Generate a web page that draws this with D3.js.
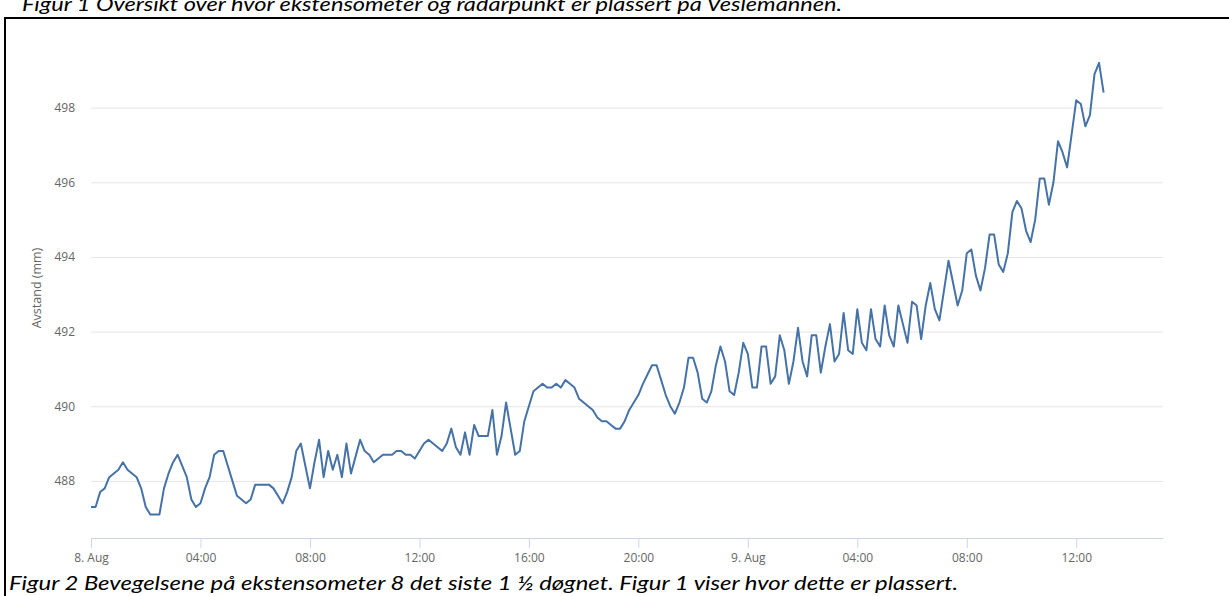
<!doctype html>
<html lang="no">
<head>
  <meta charset="utf-8">
  <title>Ekstensometer 8</title>
  <script src="https://d3js.org/d3.v7.min.js"></script>
  <style>
    body { margin: 0; background: #fff; }
    svg { display: block; }
  </style>
</head>
<body>
  <div id='my_chart'></div>
<script>
  // readings every 10 minutes from 8. Aug 00:00
  var start_time = Date.UTC(2018, 7, 8, 0, 0);
  var step_minutes = 10;
  var avstand = [
    487.3, 487.3, 487.7, 487.8, 488.1, 488.2, 488.3, 488.5, 488.3, 488.2,
    488.1, 487.8, 487.3, 487.1, 487.1, 487.1, 487.8, 488.2, 488.5, 488.7,
    488.4, 488.1, 487.5, 487.3, 487.4, 487.8, 488.1, 488.7, 488.8, 488.8,
    488.4, 488.0, 487.6, 487.5, 487.4, 487.5, 487.9, 487.9, 487.9, 487.9,
    487.8, 487.6, 487.4, 487.7, 488.1, 488.8, 489.0, 488.4, 487.8, 488.5,
    489.1, 488.1, 488.8, 488.3, 488.7, 488.1, 489.0,
    488.2, 488.65, 489.1, 488.8, 488.7, 488.5, 488.6, 488.7, 488.7, 488.7,
    488.8, 488.8, 488.7, 488.7, 488.6, 488.8, 489.0, 489.1, 489.0, 488.9,
    488.8, 489.0, 489.4, 488.9, 488.7, 489.3, 488.7, 489.5, 489.2, 489.2,
    489.2, 489.9, 488.7, 489.2, 490.1, 489.4, 488.7, 488.8, 489.6, 490.0,
    490.4, 490.5, 490.6, 490.5, 490.5, 490.6, 490.5, 490.7, 490.6, 490.5,
    490.2, 490.1, 490.0, 489.9, 489.7, 489.6,
    489.6, 489.5, 489.4, 489.4, 489.6, 489.9, 490.1, 490.3, 490.6, 490.85,
    491.1, 491.1, 490.7, 490.3, 490.0, 489.8, 490.1, 490.5, 491.3, 491.3,
    490.9, 490.2, 490.1, 490.4, 491.1, 491.6, 491.2, 490.4, 490.3, 490.9,
    491.7, 491.4, 490.5, 490.5, 491.6, 491.6, 490.6, 490.8, 491.9, 491.5,
    490.6, 491.2, 492.1, 491.2, 490.8, 491.9, 491.9, 490.9, 491.6, 492.2,
    491.2, 491.4, 492.5, 491.5, 491.4,
    492.6, 491.7, 491.5, 492.6, 491.8, 491.6, 492.7, 491.9, 491.6, 492.7,
    492.2, 491.7, 492.8, 492.7, 491.8, 492.7, 493.3, 492.6, 492.3, 493.1,
    493.9, 493.3, 492.7, 493.1, 494.1, 494.2, 493.5, 493.1, 493.7, 494.6,
    494.6, 493.8, 493.6, 494.1, 495.2, 495.5, 495.3, 494.7, 494.4, 495.0,
    496.1, 496.1, 495.4, 496.0, 497.1, 496.8, 496.4, 497.3, 498.2, 498.1,
    497.5, 497.8, 498.9, 499.2, 498.4
  ];
  var y_ticks = [488, 490, 492, 494, 496, 498];
  var x_ticks = d3.range(0, 10).map((i) => new Date(start_time + i * 4 * 3600e3));
  var caption_top = 'Figur 1 Oversikt over hvor ekstensometer og radarpunkt er plassert på Veslemannen.';
  var caption_bottom = 'Figur 2 Bevegelsene på ekstensometer 8 det siste 1 ½ døgnet. Figur 1 viser hvor dette er plassert.';
  var y_title = 'Avstand (mm)';

  var width = 1229;
  var height = 596;
  var plot = {left: 91, right: 1163, top: 33, bottom: 538};
  var font = '"Open Sans", sans-serif';

  var my_data = avstand.map((v, i) => ({t: new Date(start_time + i * step_minutes * 60e3), v: v}));

  var x = d3.scaleUtc()
    .domain([new Date(start_time), new Date(start_time + 39.17 * 3600e3)])
    .range([plot.left, plot.right]);
  var y = d3.scaleLinear()
    .domain([486.47, 500])
    .range([plot.bottom, plot.top]);

  var chart = d3.select('#my_chart').append('svg')
    .attr('width', width)
    .attr('height', height)
    .style('background', '#fff');

  // document frame and captions
  chart.append('line')
    .attr('x1', 5).attr('x2', width).attr('y1', 18).attr('y2', 18)
    .attr('stroke', '#000').attr('stroke-width', 2);
  chart.append('line')
    .attr('x1', 5).attr('x2', 5).attr('y1', 17).attr('y2', height)
    .attr('stroke', '#000').attr('stroke-width', 2);
  chart.append('text')
    .attr('x', 22).attr('y', 11)
    .attr('textLength', 820).attr('lengthAdjust', 'spacingAndGlyphs')
    .style('font', 'italic 19px Lato, sans-serif')
    .text(caption_top);
  chart.append('text')
    .attr('x', 9).attr('y', 590)
    .attr('textLength', 949).attr('lengthAdjust', 'spacingAndGlyphs')
    .style('font', 'italic 19px Lato, sans-serif')
    .text(caption_bottom);

  // y grid + labels
  var y_axis = chart.append('g')
    .attr('transform', 'translate(' + plot.left + ',0)')
    .call(d3.axisLeft(y).tickValues(y_ticks).tickSize(-(plot.right - plot.left)).tickPadding(16));
  y_axis.select('.domain').remove();
  y_axis.selectAll('line').attr('stroke', '#e6e6e6');
  y_axis.selectAll('text')
    .attr('fill', '#666')
    .style('font', '12px ' + font);

  chart.append('text')
    .attr('transform', 'translate(41,' + 288 + ') rotate(-90)')
    .attr('text-anchor', 'middle')
    .attr('fill', '#666')
    .style('font', '12.5px ' + font)
    .text(y_title);

  // x axis
  var fmt_day = d3.utcFormat('%-d. %b');
  var fmt_hour = d3.utcFormat('%H:%M');
  var x_axis = chart.append('g')
    .attr('transform', 'translate(0,' + plot.bottom + ')')
    .call(d3.axisBottom(x)
      .tickValues(x_ticks)
      .tickFormat((d) => d.getUTCHours() == 0 ? fmt_day(d) : fmt_hour(d))
      .tickSize(10).tickSizeOuter(0).tickPadding(5));
  x_axis.select('.domain').attr('stroke', '#ccd6eb');
  x_axis.selectAll('line').attr('stroke', '#ccd6eb');
  x_axis.selectAll('text')
    .attr('fill', '#666')
    .style('font', '12px ' + font);

  // the series
  var line = d3.line()
    .x((d) => x(d.t))
    .y((d) => y(d.v));
  chart.append('path')
    .datum(my_data)
    .attr('d', line)
    .attr('fill', 'none')
    .attr('stroke', '#4572a7')
    .attr('stroke-width', 2)
    .attr('stroke-linejoin', 'round');
</script>
</body>
</html>
